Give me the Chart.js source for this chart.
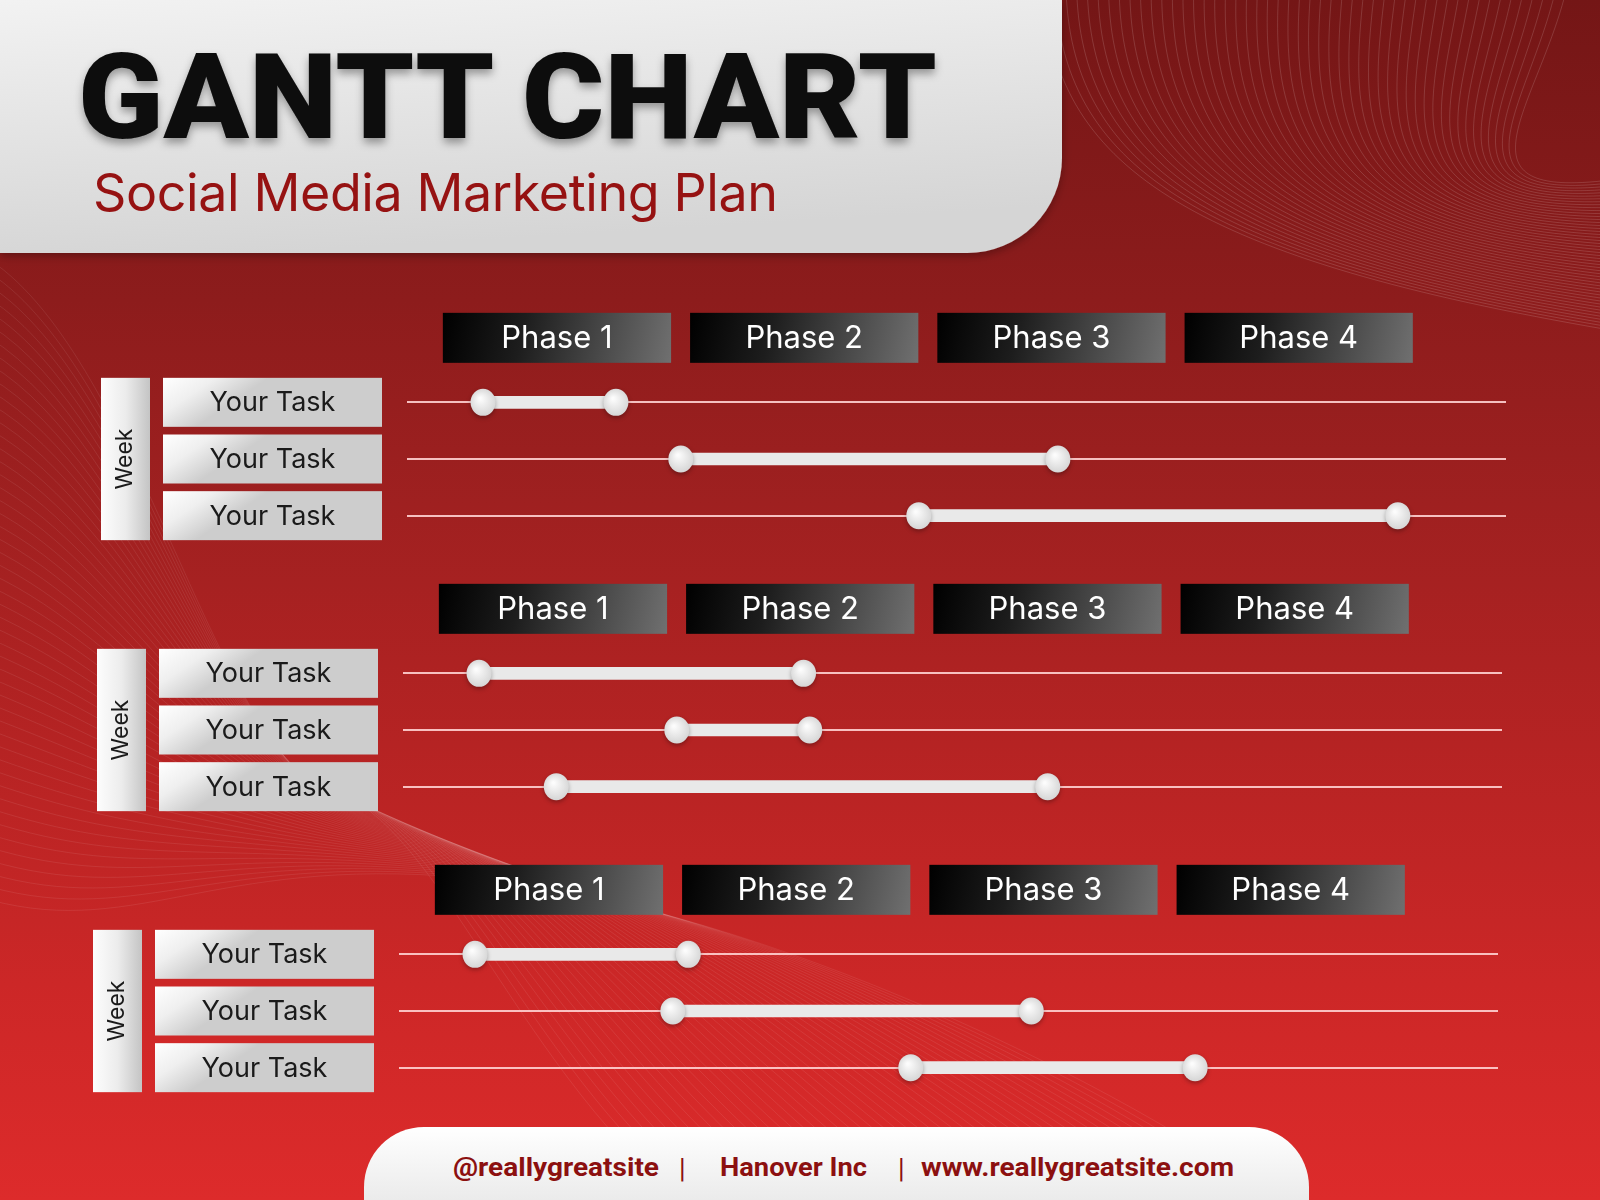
<!DOCTYPE html>
<html lang="en">
<head>
<meta charset="UTF-8">
<title>Gantt Chart - Social Media Marketing Plan</title>
<script src="https://cdn.jsdelivr.net/npm/chart.js"></script>
<style>
    html, body { margin: 0; padding: 0; }
    body { width: 1600px; height: 1200px; position: relative; overflow: hidden; background: #a02020; }
    #bg { position: absolute; left: 0; top: 0; }
    .gantt { position: absolute; left: 0; }
</style>
</head>
<body>
<svg id="bg" width="1600" height="1200" viewBox="0 0 1600 1200" xmlns="http://www.w3.org/2000/svg">
    <defs>
        <linearGradient id="bgGrad" x1="0" y1="0" x2="0" y2="1">
            <stop offset="0" stop-color="#741616"/>
            <stop offset="0.25" stop-color="#8d1c1c"/>
            <stop offset="0.42" stop-color="#9f2020"/>
            <stop offset="0.62" stop-color="#b52323"/>
            <stop offset="0.82" stop-color="#cc2727"/>
            <stop offset="1" stop-color="#dd2b2b"/>
        </linearGradient>
        <linearGradient id="panelGrad" x1="0" y1="0" x2="0.25" y2="1">
            <stop offset="0" stop-color="#f2f2f2"/>
            <stop offset="1" stop-color="#d5d5d5"/>
        </linearGradient>
        <linearGradient id="footGrad" x1="0" y1="0" x2="0" y2="1">
            <stop offset="0" stop-color="#ffffff"/>
            <stop offset="1" stop-color="#ebebeb"/>
        </linearGradient>
        <filter id="titleShadow" x="-5%" y="-20%" width="110%" height="160%">
            <feDropShadow dx="0" dy="5" stdDeviation="4" flood-color="#000" flood-opacity="0.35"/>
        </filter>
        <filter id="panelShadow" x="-5%" y="-10%" width="110%" height="130%">
            <feDropShadow dx="0" dy="3" stdDeviation="4" flood-color="#000" flood-opacity="0.3"/>
        </filter>
    </defs>
    <rect width="1600" height="1200" fill="url(#bgGrad)"/>
    <g id="waves" fill="none" stroke="#ffffff" stroke-width="1"></g>
    <path d="M0 0 H1062 V158 A95 95 0 0 1 967 253 H0 Z" fill="url(#panelGrad)" filter="url(#panelShadow)"/>
    <path d="M364 1200 V1187 A60 60 0 0 1 424 1127 H1249 A60 60 0 0 1 1309 1187 V1200 Z" fill="url(#footGrad)"/>

    <text x="78" y="138" font-family="Roboto, Inter, 'DejaVu Sans'" font-weight="900" font-size="118"
          fill="#0a0a0a" textLength="859" lengthAdjust="spacingAndGlyphs" filter="url(#titleShadow)">GANTT CHART</text>
    <text x="93" y="211" font-family="Inter, 'Open Sans', sans-serif" font-weight="400" font-size="52"
          fill="#961212" textLength="685" lengthAdjust="spacing">Social Media Marketing Plan</text>

    <g font-family="Roboto, 'Liberation Sans', sans-serif" font-weight="700" font-size="26" fill="#8c1010">
        <text x="453" y="1176" textLength="206" lengthAdjust="spacingAndGlyphs">@reallygreatsite</text>
        <text x="679" y="1178" font-weight="400" font-size="27">|</text>
        <text x="720" y="1176" textLength="147" lengthAdjust="spacingAndGlyphs">Hanover Inc</text>
        <text x="898" y="1178" font-weight="400" font-size="27">|</text>
        <text x="921" y="1176" textLength="313" lengthAdjust="spacingAndGlyphs">www.reallygreatsite.com</text>
    </g>
</svg>

<script>
    // ---- data (weeks; each phase = 4 weeks) ----
    const phaseLabels = ['Phase 1', 'Phase 2', 'Phase 3', 'Phase 4'];
    const phaseStart = [0, 4, 8, 12];
    const phaseEnd = [4, 8, 12, 16];
    const taskLabels = ['Your Task', 'Your Task', 'Your Task'];
    const weekMin = -0.58;
    const weekMax = 17.2;

    const block1Start = [0.65, 3.85, 7.7];
    const block1End = [2.8, 9.95, 15.45];
    const block2Start = [0.65, 3.85, 1.9];
    const block2End = [5.9, 6.0, 9.85];
    const block3Start = [0.65, 3.85, 7.7];
    const block3End = [4.1, 9.65, 12.3];

    // ---- background waves (decoration only) ----
    const svgNS = 'http://www.w3.org/2000/svg';
    const waves = document.getElementById('waves');
    function addWave(d, op) {
        const p = document.createElementNS(svgNS, 'path');
        p.setAttribute('d', d);
        p.setAttribute('stroke-opacity', op);
        waves.appendChild(p);
    }
    // top right swoosh
    for (let i = 0; i < 50; i++) {
        const t = i / 49;
        const x0 = 1045 + 520 * t;
        addWave(`M${x0} -5 C${x0 + 10 - 40 * t} ${170 - 60 * t} ${1200 + 250 * t} ${260 - 60 * t} 1610 ${330 - 150 * t}`, 0.14);
    }
    // left side / lower middle
    for (let i = 0; i < 50; i++) {
        const t = i / 49;
        const y0 = 260 + 640 * t;
        const mx = 330 + 160 * t, my = 790 + 90 * t;
        const ex = 700 + 600 * t;
        addWave(`M-10 ${y0} C140 ${y0 + 100 - 60 * t} 220 ${my - 30} ${mx} ${my} S ${ex - 180} 1080 ${ex} 1215`, 0.08);
    }

    // ---- drawing helpers ----
    function drawKnob(ctx, cx, cy) {
        ctx.save();
        ctx.shadowColor = 'rgba(0,0,0,0.3)';
        ctx.shadowBlur = 4;
        ctx.shadowOffsetY = 2;
        const g = ctx.createRadialGradient(cx - 3, cy - 4, 1, cx, cy, 15);
        g.addColorStop(0, '#fcfcfc');
        g.addColorStop(1, '#d2d2d2');
        ctx.fillStyle = g;
        ctx.beginPath();
        ctx.ellipse(cx, cy, 12.5, 13.5, 0, 0, Math.PI * 2);
        ctx.fill();
        ctx.restore();
    }

    const ganttDecor = {
        id: 'ganttDecor',
        afterDatasetsDraw(chart) {
            const ctx = chart.ctx;
            chart.getDatasetMeta(0).data.forEach(bar => {
                const p = bar.getProps(['x', 'base', 'y'], true);
                drawKnob(ctx, p.base, p.y);
                drawKnob(ctx, p.x, p.y);
            });
        },
        afterDraw(chart) {
            const ctx = chart.ctx;
            const xs = chart.scales.x;
            const ys = chart.scales.y;
            const area = chart.chartArea;
            const n = chart.data.labels.length;
            const c0 = ys.getPixelForValue(0);
            const cN = ys.getPixelForValue(n - 1);

            // phase headers
            const hTop = c0 - 89.5, hH = 50;
            phaseLabels.forEach((lab, i) => {
                const l = xs.getPixelForValue(phaseStart[i]);
                const r = xs.getPixelForValue(phaseEnd[i]) - 19;
                const g = ctx.createLinearGradient(l, hTop, r, hTop + hH);
                g.addColorStop(0, '#000000');
                g.addColorStop(0.35, '#1d1d1d');
                g.addColorStop(1, '#707070');
                ctx.fillStyle = g;
                ctx.fillRect(l, hTop, r - l, hH);
                ctx.fillStyle = '#ffffff';
                ctx.font = '400 31px Inter, sans-serif';
                ctx.textAlign = 'center';
                ctx.textBaseline = 'middle';
                ctx.fillText(lab, (l + r) / 2, hTop + hH / 2 + 1);
            });

            // week box
            const wx = area.left - 306, ww = 49;
            const wTop = c0 - 24.5, wBot = cN + 24.5;
            let g = ctx.createLinearGradient(wx, 0, wx + ww, 0);
            g.addColorStop(0, '#fdfdfd');
            g.addColorStop(0.5, '#ececec');
            g.addColorStop(1, '#c4c4c4');
            ctx.fillStyle = g;
            ctx.fillRect(wx, wTop, ww, wBot - wTop);
            ctx.save();
            ctx.translate(wx + ww / 2, (wTop + wBot) / 2);
            ctx.rotate(-Math.PI / 2);
            ctx.fillStyle = '#1a1a1a';
            ctx.font = '400 23px Inter, sans-serif';
            ctx.textAlign = 'center';
            ctx.textBaseline = 'middle';
            ctx.fillText('Week', 0, 0);
            ctx.restore();

            // task boxes
            const tx = area.left - 244, tw = 219, th = 49;
            chart.data.labels.forEach((lab, i) => {
                const cy = ys.getPixelForValue(i);
                const top = cy - th / 2;
                const tg = ctx.createLinearGradient(tx, top, tx + tw * 0.15, top + th);
                tg.addColorStop(0, '#ffffff');
                tg.addColorStop(0.5, '#efefef');
                tg.addColorStop(1, '#cdcdcd');
                ctx.fillStyle = tg;
                ctx.fillRect(tx, top, tw, th);
                ctx.fillStyle = '#1a1a1a';
                ctx.font = '400 27px Inter, sans-serif';
                ctx.textAlign = 'center';
                ctx.textBaseline = 'middle';
                ctx.fillText(lab, tx + tw / 2, cy + 1);
            });
        }
    };

    function makeGantt(starts, ends, chartTop, shift) {
        const canvas = document.createElement('canvas');
        canvas.className = 'gantt';
        canvas.width = 1600;
        canvas.height = 250;
        canvas.style.top = (chartTop - 70) + 'px';
        document.body.appendChild(canvas);
        const left = 407 - shift;
        const right = 1506 - shift;
        return new Chart(canvas.getContext('2d'), {
            type: 'bar',
            data: {
                labels: taskLabels,
                datasets: [{
                    data: starts.map((s, i) => [s, ends[i]]),
                    backgroundColor: '#e9e9e9',
                    barThickness: 12,
                    borderSkipped: false
                }]
            },
            options: {
                indexAxis: 'y',
                responsive: false,
                animation: false,
                layout: { padding: { left: left, right: 1600 - right, top: 70, bottom: 10 } },
                scales: {
                    x: { display: false, min: weekMin, max: weekMax },
                    y: {
                        display: true,
                        grid: { offset: false, color: 'rgba(255,210,210,0.9)', lineWidth: 2, drawTicks: false },
                        border: { display: false },
                        ticks: { display: false }
                    }
                },
                plugins: { legend: { display: false }, tooltip: { enabled: false } }
            },
            plugins: [ganttDecor]
        });
    }

    document.fonts.load('31px Inter').then(() => {
        makeGantt(block1Start, block1End, 374, 0);
        makeGantt(block2Start, block2End, 645, 4);
        makeGantt(block3Start, block3End, 926, 8);
    });
</script>
</body>
</html>
